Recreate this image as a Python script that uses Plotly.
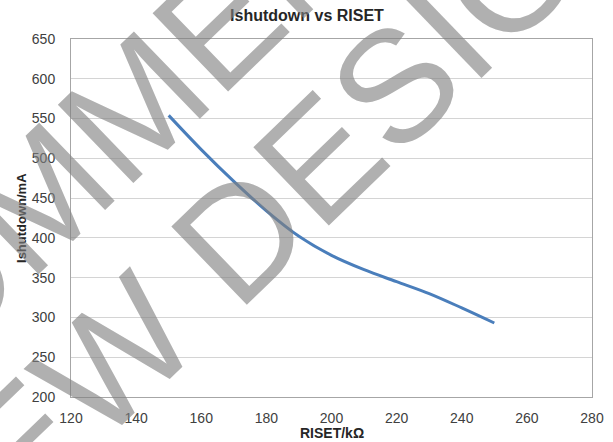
import plotly.graph_objects as go

# RISET (kOhm) vs shutdown current (mA)
riset_kohm = [150, 160, 170, 180, 190, 200, 210, 220, 230, 240, 250]
ishutdown_ma = [554, 511, 471, 434, 402, 378, 360, 345, 330, 312, 293]

x_ticks = [120, 140, 160, 180, 200, 220, 240, 260, 280]
y_ticks = [200, 250, 300, 350, 400, 450, 500, 550, 600, 650]

watermark_lines = ["NOT RECOMMENDED", "FOR NEW DESIGN"]

fig = go.Figure()
fig.add_trace(
    go.Scatter(
        x=riset_kohm,
        y=ishutdown_ma,
        mode="lines",
        line=dict(color="#4a7ebb", width=3, shape="spline"),
        showlegend=False,
    )
)

tick_font = dict(family="Liberation Sans, Arial", size=14, color="#404040")

fig.update_xaxes(
    range=[120, 280],
    tickvals=x_ticks,
    showline=True, linecolor="#a6a6a6", linewidth=1, mirror=True,
    showgrid=False, zeroline=False, ticks="",
    tickfont=tick_font,
    ticklabelstandoff=8,
    automargin=False,
)
fig.update_yaxes(
    range=[200, 650],
    tickvals=y_ticks,
    showline=True, linecolor="#a6a6a6", linewidth=1, mirror=True,
    showgrid=True, gridcolor="#d4d4d4", gridwidth=1,
    zeroline=False, ticks="",
    tickfont=tick_font,
    ticklabelstandoff=12,
    automargin=False,
)

# axis titles as annotations so they sit where the reference has them
fig.add_annotation(
    x=0.5, y=-0.1, xref="paper", yref="paper", showarrow=False,
    text="<b>RISET/kΩ</b>",
    font=dict(family="Liberation Sans, Arial", size=14, color="#262626"),
    xanchor="center", yanchor="middle",
)
fig.add_annotation(
    x=-0.096, y=0.5, xref="paper", yref="paper", showarrow=False,
    text="<b>Ishutdown/mA</b>", textangle=-90,
    font=dict(family="Liberation Sans, Arial", size=13, color="#262626"),
    xanchor="center", yanchor="middle",
)

# diagonal watermark across the chart
wm_pos = [(-0.164, 0.414), (0.119, 0.165)]
for text, (wx, wy) in zip(watermark_lines, wm_pos):
    fig.add_annotation(
        x=wx, y=wy, xref="paper", yref="paper",
        text=text, showarrow=False, textangle=-44,
        xanchor="center", yanchor="middle",
        font=dict(family="Liberation Sans, Arial", size=158,
                  color="rgba(128,128,128,0.62)"),
    )

fig.update_layout(
    title=dict(text="<b>Ishutdown vs RISET</b>", x=307 / 613, xanchor="center",
               xref="container", y=1 - 15 / 442, yref="container", yanchor="middle",
               font=dict(family="Liberation Sans, Arial", size=16, color="#262626")),
    width=613,
    height=442,
    margin=dict(l=71, r=21, t=39, b=45),
    paper_bgcolor="white",
    plot_bgcolor="white",
)

# drop the browser's default body margin so the figure sits at the page corner
fig.write_html(
    "out.html",
    config={"displayModeBar": False},
    post_script="document.body.style.margin='0px';",
)
